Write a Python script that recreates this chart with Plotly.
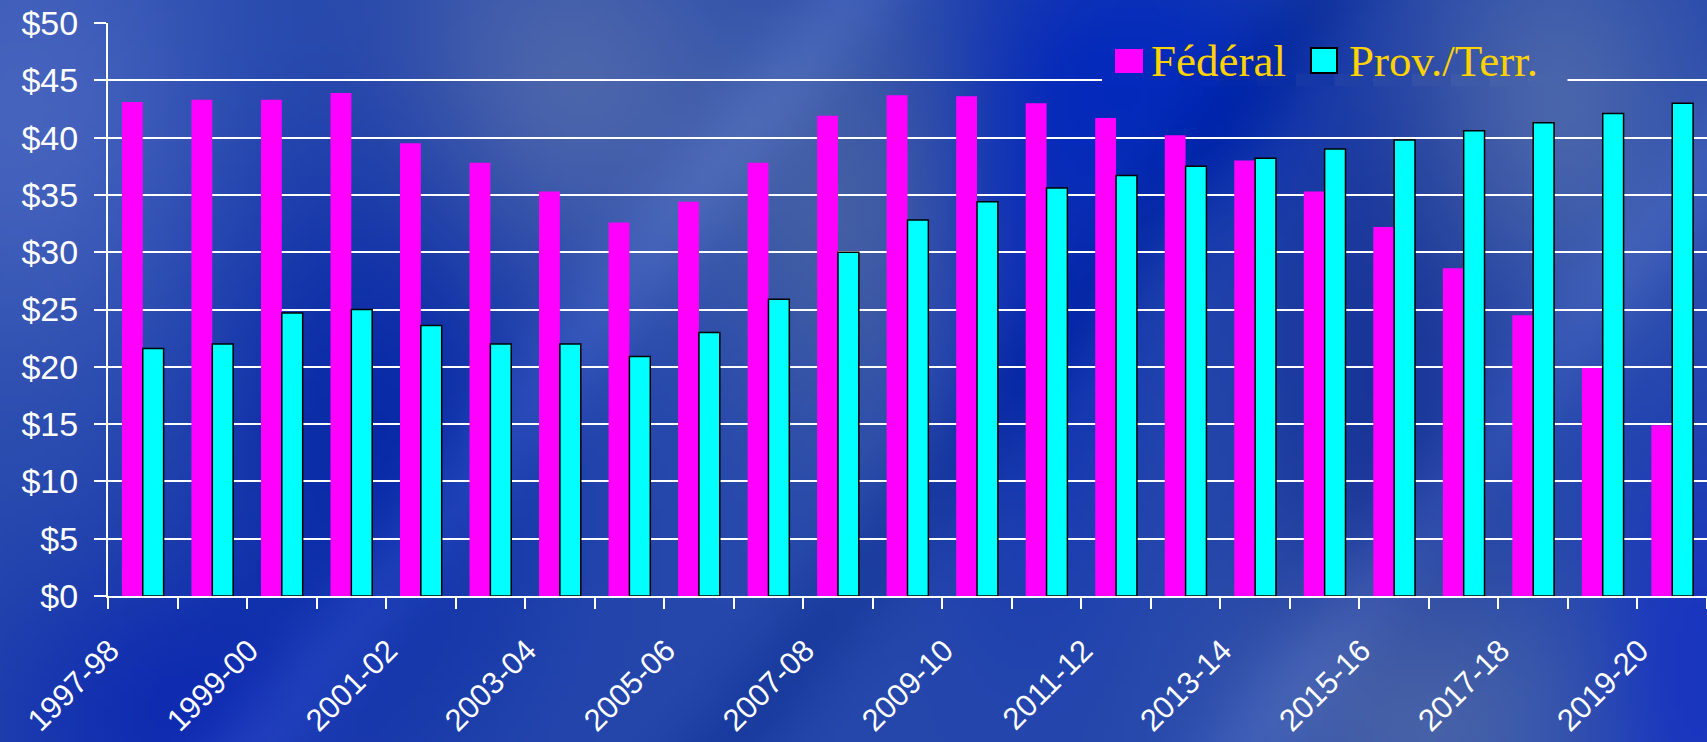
import base64, struct, zlib
import numpy as np
import plotly.graph_objects as go

# ---------------- data ----------------
categories = ["1997-98", "1998-99", "1999-00", "2000-01", "2001-02", "2002-03",
              "2003-04", "2004-05", "2005-06", "2006-07", "2007-08", "2008-09",
              "2009-10", "2010-11", "2011-12", "2012-13", "2013-14", "2014-15",
              "2015-16", "2016-17", "2017-18", "2018-19", "2019-20"]
federal = [43.1, 43.3, 43.3, 43.9, 39.5, 37.8, 35.3, 32.6, 34.4, 37.8, 41.9, 43.7,
           43.6, 43.0, 41.7, 40.2, 38.0, 35.3, 32.2, 28.6, 24.5, 19.9, 14.9]
prov_terr = [21.6, 22.0, 24.7, 25.0, 23.6, 22.0, 22.0, 20.9, 23.0, 25.9, 30.0, 32.8,
             34.4, 35.6, 36.7, 37.5, 38.2, 39.0, 39.8, 40.6, 41.3, 42.1, 43.0]
series_names = ["Fédéral", "Prov./Terr."]
y_ticks = [0, 5, 10, 15, 20, 25, 30, 35, 40, 45, 50]

# ---------------- layout geometry (pixels) ----------------
W, H = 1707, 742
ML, MR, MT, MB = 108, 0, 23, 146
PW, PH = W - ML - MR, H - MT - MB


def px(x):
    return (x - ML) / PW


def py(y):
    return (H - MB - y) / PH


# ---------------- background texture (style only) ----------------
BGW, BGH = 240, 104


def make_bg(w=BGW, h=BGH):
    yy, xx = np.mgrid[0:h, 0:w].astype(float)
    u, v = xx / w, yy / h
    base = np.array([38, 72, 172], float)
    img = np.ones((h, w, 3)) * base
    blobs = [  # (cx, cy, rx, ry, color delta)
        (0.02, 0.15, 0.12, 0.35, (32, 28, 18)),
        (0.22, 0.55, 0.10, 0.40, (-30, -30, -5)),
        (0.33, 0.12, 0.10, 0.25, (40, 32, 0)),
        (0.50, 0.30, 0.08, 0.30, (28, 22, -8)),
        (0.60, 0.35, 0.06, 0.40, (-25, -25, 10)),
        (0.68, 0.10, 0.08, 0.20, (-30, -25, 15)),
        (0.80, 0.50, 0.07, 0.40, (-15, -20, -20)),
        (0.90, 0.15, 0.08, 0.25, (36, 30, 0)),
        (0.82, 0.95, 0.10, 0.20, (36, 30, 0)),
        (0.10, 0.95, 0.10, 0.20, (-20, -25, 5)),
        (0.98, 0.90, 0.05, 0.30, (-15, -20, 20)),
    ]
    for cx, cy, rx, ry, d in blobs:
        g = np.exp(-(((u - cx) / rx) ** 2 + ((v - cy) / ry) ** 2))
        img += g[..., None] * np.array(d, float)
    for k, amp in [(0.15, 14), (0.42, -12), (0.72, 12)]:
        s = np.exp(-(((u - k) - (0.35 * (1 - v))) / 0.035) ** 2)
        img += s[..., None] * amp
    img = np.clip(img, 0, 255).astype(np.uint8)
    raw = b"".join(b"\x00" + img[r].tobytes() for r in range(h))

    def chunk(t, data):
        c = struct.pack(">I", len(data)) + t + data
        return c + struct.pack(">I", zlib.crc32(t + data) & 0xFFFFFFFF)

    png = (b"\x89PNG\r\n\x1a\n" + chunk(b"IHDR", struct.pack(">IIBBBBB", w, h, 8, 2, 0, 0, 0))
           + chunk(b"IDAT", zlib.compress(raw, 9)) + chunk(b"IEND", b""))
    return img, "data:image/png;base64," + base64.b64encode(png).decode()


bg_img, bg_uri = make_bg()


def bg_color_at(x, y):
    c = bg_img[min(BGH - 1, int(y / H * BGH)), min(BGW - 1, int(x / W * BGW))]
    return "rgb(%d,%d,%d)" % tuple(int(t) for t in c)


MAGENTA, CYAN = "#FF00FF", "#00FFFF"
GOLD = "#FFD200"
BG = "#2A4FB0"
LABEL_SHIFT = -0.47

x_idx = list(range(len(categories)))
label_idx = x_idx[::2]

fig = go.Figure()
fig.add_trace(go.Bar(x=x_idx, y=federal, name=series_names[0],
                     marker=dict(color=MAGENTA, line=dict(width=0)), showlegend=False))
fig.add_trace(go.Bar(x=x_idx, y=prov_terr, name=series_names[1],
                     marker=dict(color=CYAN, line=dict(color="black", width=1.5)), showlegend=False))

fig.update_layout(
    width=W, height=H,
    margin=dict(l=ML, r=MR, t=MT, b=MB, pad=0, autoexpand=False),
    paper_bgcolor=BG, plot_bgcolor="rgba(0,0,0,0)",
    barmode="group", bargap=0.4, bargroupgap=0.0,
    images=[dict(source=bg_uri, xref="paper", yref="paper", x=-ML / PW - 0.01, y=1 + MT / PH + 0.02,
                 sizex=W / PW + 0.02, sizey=H / PH + 0.04, sizing="stretch",
                 xanchor="left", yanchor="top", layer="below")],
    xaxis=dict(
        range=[-0.5, len(categories) - 0.5], automargin=False,
        tickmode="array", tickvals=[i + LABEL_SHIFT for i in label_idx],
        ticktext=[categories[i] for i in label_idx],
        tickangle=-45, ticks="", showgrid=False, zeroline=False,
        showline=True, linecolor="white", linewidth=2,
        tickfont=dict(family="Liberation Sans, Arial", size=31, color="white"),
        ticklabelstandoff=22,
        minor=dict(ticks="outside", ticklen=11, tickwidth=2, tickcolor="white",
                   tick0=-0.5, dtick=1, showgrid=False),
    ),
    yaxis=dict(
        range=[0, 50], tickmode="array", tickvals=y_ticks, automargin=False,
        ticktext=[f"${v}" for v in y_ticks],
        ticks="outside", ticklen=12, tickwidth=2, tickcolor="white",
        showgrid=True, gridcolor="white", gridwidth=2, zeroline=False,
        showline=True, linecolor="white", linewidth=2,
        tickfont=dict(family="Liberation Sans, Arial", size=34, color="white"),
        ticklabelstandoff=9,
    ),
    showlegend=False,
)

# ---------------- manual legend ----------------
shapes = []
seg_edges = np.linspace(1102, 1567, 13)
for a, b in zip(seg_edges[:-1], seg_edges[1:]):
    shapes.append(dict(type="rect", xref="paper", yref="paper", x0=px(a), x1=px(b + 0.5),
                       y0=py(86), y1=py(74), fillcolor=bg_color_at((a + b) / 2, 80),
                       line=dict(width=0), layer="above"))
shapes += [
    dict(type="rect", xref="paper", yref="paper", x0=px(1115), x1=px(1143), y0=py(73), y1=py(49),
         fillcolor=MAGENTA, line=dict(width=0), layer="above"),
    dict(type="rect", xref="paper", yref="paper", x0=px(1311), x1=px(1337), y0=py(73), y1=py(48),
         fillcolor=CYAN, line=dict(color="black", width=2), layer="above"),
]
fig.update_layout(shapes=shapes)
for name, xl in [(series_names[0], 1149), (series_names[1], 1347)]:
    fig.add_annotation(text=name, xref="paper", yref="paper", x=px(xl), y=py(61),
                       xanchor="left", yanchor="middle", showarrow=False,
                       font=dict(family="Liberation Serif, Times New Roman", size=45, color=GOLD))

fig.write_html("out.html", config={"displayModeBar": False},
               post_script="document.body.style.margin='0';document.body.style.overflow='hidden';")
